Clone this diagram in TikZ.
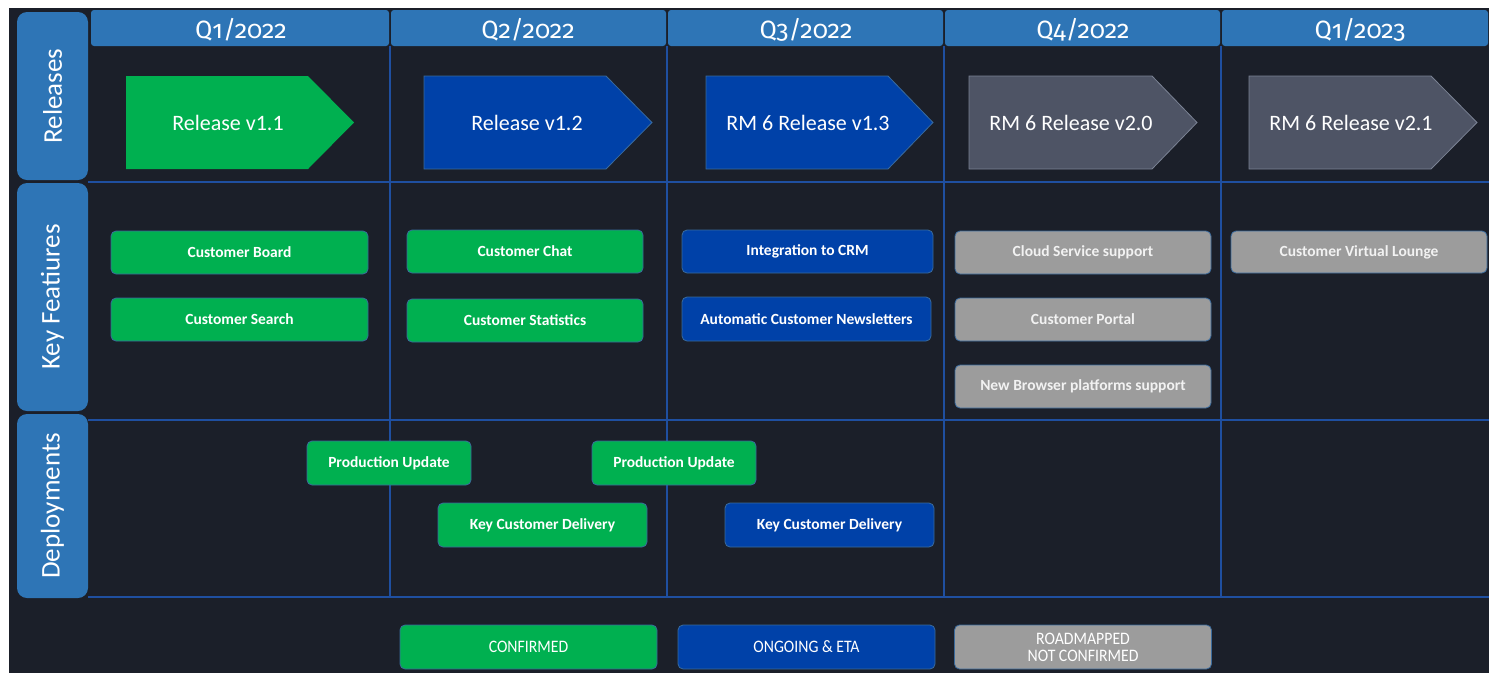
\documentclass[tikz,border=0pt]{standalone}
\usepackage{fontspec}
\setmainfont{Carlito}
\newfontfamily\qfont[Numbers=OldStyle]{Fira Sans}
\newfontfamily\condfont[FakeStretch=0.9]{Carlito}
\definecolor{bgdark}{HTML}{1B1F29}
\definecolor{hdrblue}{HTML}{2E75B6}
\definecolor{gridblue}{HTML}{1F4FA0}
\definecolor{okgreen}{HTML}{00B050}
\definecolor{ongoblue}{HTML}{0041A8}
\definecolor{rmgray}{HTML}{9C9C9C}
\definecolor{arrgray}{HTML}{4E5465}
\definecolor{arredge}{HTML}{7A8294}
\definecolor{boxedge}{HTML}{3A6A9C}
\begin{document}
\begin{tikzpicture}[x=1pt,y=-1pt,
  side/.style={fill=hdrblue, rounded corners=10pt, minimum height=71, text=white, rotate=90, font=\fontsize{27}{30}\selectfont, inner sep=0},
  hdr/.style={text=white, font=\qfont\fontsize{25}{28}\selectfont},
  grid/.style={draw=gridblue, line width=1.2pt},
  rel/.style={text=white, font=\fontsize{22}{26}\selectfont},
  feat/.style={rounded corners=5pt, draw=boxedge, line width=0.8pt, text=white, font=\bfseries\fontsize{15.5}{18}\selectfont, inner sep=0, minimum height=43},
  legend/.style={rounded corners=5pt, draw=boxedge, line width=0.8pt, text=white, font=\condfont\fontsize{17.5}{19}\selectfont, inner sep=0, minimum width=257, minimum height=44, align=center},
  fgreen/.style={feat, fill=okgreen},
  fblue/.style={feat, fill=ongoblue},
  fgray/.style={feat, fill=rmgray, text=white!95!black},
]
\useasboundingbox (0,0) rectangle (1489,673);
\fill[white] (0,0) rectangle (1489,673);
\fill[bgdark] (9,8) rectangle (1489,673);

% header bar
\foreach \a/\b in {90/390,390/667,667/944,944/1221,1221/1489}{
  \fill[hdrblue, rounded corners=3pt] (\a+1,10) rectangle (\b-1,46);
}
\node[hdr] (q1) at (241,30) {Q1/2022};
\node[hdr] (q2) at (528,30) {Q2/2022};
\node[hdr] (q3) at (806,30) {Q3/2022};
\node[hdr] (q4) at (1083,30) {Q4/2022};
\node[hdr] (q5) at (1360,30) {Q1/2023};

% side labels
\node[side, minimum width=168] (sr) at (52.5,96) {Releases};
\node[side, minimum width=228] (sk) at (52.5,297) {Key Featiures};
\node[side, minimum width=184] (sd) at (52.5,506) {Deployments};

% grid
\draw[grid] (88,182) -- (1489,182);
\draw[grid] (88,420) -- (1489,420);
\draw[grid] (88,597) -- (1489,597);
\foreach \x in {390,667,944,1221}{
  \draw[grid] (\x,46) -- (\x,597);
}

% release arrows
\fill[okgreen] (126,76) -- (308,76) -- (354,122.5) -- (308,169) -- (126,169) -- cycle;
\node[rel] (r1) at (228,123) {Release v1.1};
\filldraw[fill=ongoblue, draw=boxedge, line width=0.8pt] (424,76) -- (606,76) -- (652,122.5) -- (606,169) -- (424,169) -- cycle;
\node[rel] (r2) at (527,123) {Release v1.2};
\filldraw[fill=ongoblue, draw=boxedge, line width=0.8pt] (706,76) -- (888,76) -- (933,122.5) -- (888,169) -- (706,169) -- cycle;
\node[rel] (r3) at (808,123) {RM 6 Release v1.3};
\filldraw[fill=arrgray, draw=arredge, line width=0.8pt] (969,76) -- (1152,76) -- (1197,122.5) -- (1152,169) -- (969,169) -- cycle;
\node[rel] (r4) at (1071,123) {RM 6 Release v2.0};
\filldraw[fill=arrgray, draw=arredge, line width=0.8pt] (1249,76) -- (1431,76) -- (1477,122.5) -- (1431,169) -- (1249,169) -- cycle;
\node[rel] (r5) at (1351,123) {RM 6 Release v2.1};

% key features
\node[fgreen, minimum width=257] (cb) at (239.5,252.5) {Customer Board};
\node[fgreen, minimum width=257] (cs) at (239.5,319.5) {Customer Search};
\node[fgreen, minimum width=236] (cc) at (525,251.5) {Customer Chat};
\node[fgreen, minimum width=236] (cst) at (525,320.5) {Customer Statistics};
\node[fblue, minimum width=251] (crm) at (807.5,251.5) {Integration to CRM};
\node[fblue, minimum width=249, minimum height=44] (acn) at (806.5,319) {Automatic Customer Newsletters};
\node[fgray, minimum width=256] (cloud) at (1083,252.5) {Cloud Service support};
\node[fgray, minimum width=256] (portal) at (1083,319.5) {Customer Portal};
\node[fgray, minimum width=256] (browser) at (1083,386.5) {New Browser platforms support};
\node[fgray, minimum width=256, minimum height=42] (lounge) at (1359,252) {Customer Virtual Lounge};

% deployments
\node[fgreen, minimum width=164, minimum height=44] (pu1) at (389,463) {Production Update};
\node[fgreen, minimum width=164, minimum height=44] (pu2) at (674,463) {Production Update};
\node[fgreen, minimum width=209, minimum height=44] (kcd1) at (542.5,525) {Key Customer Delivery};
\node[fblue, minimum width=209, minimum height=44] (kcd2) at (829.5,525) {Key Customer Delivery};

% legend
\node[legend, fill=okgreen] (lconf) at (528.5,647) {CONFIRMED};
\node[legend, fill=ongoblue] (lgo) at (806.5,647) {ONGOING \& ETA};
\node[legend, fill=rmgray] (lrm) at (1083,647) {ROADMAPPED\\[-2pt]NOT CONFIRMED};
\end{tikzpicture}
\end{document}
